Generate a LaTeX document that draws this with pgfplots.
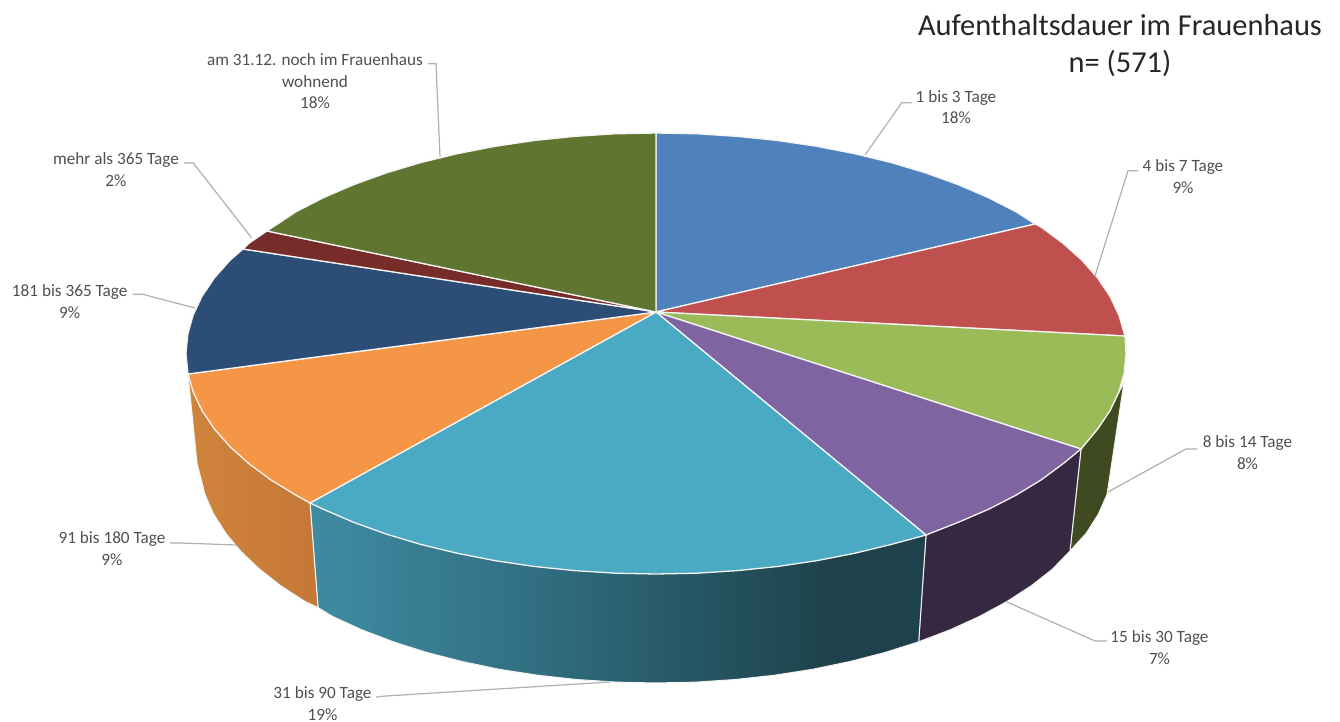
\documentclass[border=0pt]{standalone}
\usepackage{pgfplots}
\pgfplotsset{compat=1.18}
\usepackage{fontspec}
\setmainfont{Carlito}
\definecolor{cA}{HTML}{4F81BD}
\definecolor{cB}{HTML}{C0504D}
\definecolor{cC}{HTML}{9BBB59}
\definecolor{cD}{HTML}{8064A2}
\definecolor{cE}{HTML}{4AA9C3}
\definecolor{cF}{HTML}{F49645}
\definecolor{cG}{HTML}{2C4D75}
\definecolor{cH}{HTML}{772C2A}
\definecolor{cI}{HTML}{5F7530}
\definecolor{wC}{HTML}{3F4A21}
\definecolor{wD}{HTML}{352840}
\definecolor{lead}{HTML}{B0B0B0}
\definecolor{txt}{HTML}{505050}
\definecolor{edge}{HTML}{F4F4F4}
\definecolor{t1}{RGB}{62,140,162}
\definecolor{t2}{RGB}{52,116,136}
\definecolor{t3}{RGB}{40,92,107}
\definecolor{t4}{RGB}{30,66,76}
\definecolor{o1}{RGB}{207,132,60}
\definecolor{o2}{RGB}{197,120,55}
\pgfdeclarehorizontalshading{tealwall}{100bp}{
  color(0bp)=(t1); color(25bp)=(t1); color(40bp)=(t2); color(53bp)=(t3); color(67bp)=(t4); color(100bp)=(t4)}
\pgfdeclarehorizontalshading{orangewall}{100bp}{
  color(0bp)=(o1); color(25bp)=(o1); color(75bp)=(o2); color(100bp)=(o2)}
\newcommand{\lab}[3]{\node[anchor=base,inner sep=0pt,text=txt,font=\fontsize{8.6}{10}\selectfont] at (axis cs:#1,#2) {#3};}
\newcommand{\ttl}[3]{\node[anchor=base,inner sep=0pt,text=black!85,font=\fontsize{15.2}{18}\selectfont] at (axis cs:#1,#2) {#3};}
\begin{document}
\begin{tikzpicture}
\begin{axis}[
  width=670pt,height=361pt,scale only axis,
  xmin=0,xmax=1340,ymin=0,ymax=722,y dir=reverse,
  axis lines=none,clip=false,
]
% canvas
\addplot[draw=none,fill=white] coordinates {(0,0)(1340,0)(1340,722)(0,722)} --cycle;
% walls
\addplot[fill=wC,draw=edge,line width=0.5pt] coordinates {(1124,382)(1107,494.6)(1098.4,514)(1086.4,533)(1070,551)(1081,449)(1097.7,428.9)(1110,410.6)} --cycle;
\addplot[fill=wD,draw=edge,line width=0.5pt] coordinates {(1081,449)(1070,551)(1052.6,569)(1031.2,585.8)(1006.8,601.6)(979.9,616.2)(950.4,629.7)(918.7,641.8)(926,535)} --cycle;
\addplot[shade,shading=tealwall,draw=edge,line width=0.5pt] coordinates {(926,535)(918.7,641.8)(885,652.5)(849.6,661.6)(812.6,669.3)(774.5,675.2)(735.5,679.5)(695.9,682.1)(656,683)(616.1,682.1)(576.5,679.5)(537.5,675.2)(499.4,669.3)(462.4,661.6)(427,652.5)(393.3,641.8)(361.6,629.7)(332.1,616.2)(318,607.5)(310,503)} --cycle;
\addplot[shade,shading=orangewall,draw=edge,line width=0.5pt] coordinates {(310,503)(318,607.5)(305.2,601.6)(280.8,585.8)(259.4,569)(240.9,551.4)(225.6,533)(213.6,514)(205,494.6)(197,463)(188,374)(230,446.7)} --cycle;
% top
\addplot[fill=cA,draw=edge,line width=0.65pt] coordinates {(656,312)(656,133)(697,133.8)(737.6,136.4)(777.6,140.5)(816.7,146.3)(854.6,153.7)(891,162.5)(925.6,172.9)(958.1,184.6)(988.3,197.6)(1016,211.8)(1035,224)} --cycle;
\addplot[fill=cB,draw=edge,line width=0.65pt] coordinates {(656,312)(1035,224)(1041,227)(1063,243.25)(1082,260.3)(1097.7,278.1)(1110,296.4)(1118.9,315.2)(1125,336)} --cycle;
\addplot[fill=cC,draw=edge,line width=0.65pt] coordinates {(656,312)(1125,336)(1126,353.5)(1124.2,372.7)(1118.9,391.8)(1110,410.6)(1097.7,428.9)(1081,449)} --cycle;
\addplot[fill=cD,draw=edge,line width=0.65pt] coordinates {(656,312)(1081,449)(1063,463.75)(1041,480)(1016,495.2)(988.3,509.4)(958.1,522.4)(926,535)} --cycle;
\addplot[fill=cE,draw=edge,line width=0.65pt] coordinates {(656,312)(926,535)(891,544.5)(854.6,553.3)(816.7,560.7)(777.6,566.5)(737.6,570.6)(697,573.2)(656,574)(615,573.2)(574.4,570.6)(534.4,566.5)(495.3,560.7)(457.4,553.3)(421,544.5)(386.4,534.1)(353.9,522.4)(323.7,509.4)(310,503)} --cycle;
\addplot[fill=cF,draw=edge,line width=0.65pt] coordinates {(656,312)(310,503)(296,495.2)(271,480)(249,463.75)(230,446.7)(214.3,428.9)(202,410.6)(193.1,391.8)(188,374)} --cycle;
\addplot[fill=cG,draw=edge,line width=0.65pt] coordinates {(656,312)(188,374)(186,353.5)(187.8,334.3)(193.1,315.2)(202,296.4)(214.3,278.1)(230,260.3)(243,249)} --cycle;
\addplot[fill=cH,draw=edge,line width=0.65pt] coordinates {(656,312)(243,249)(249,243.25)(267,231)} --cycle;
\addplot[fill=cI,draw=edge,line width=0.65pt] coordinates {(656,312)(267,231)(296,211.8)(323.7,197.6)(353.9,184.6)(386.4,172.9)(421,162.5)(457.4,153.7)(495.3,146.3)(534.4,140.5)(574.4,136.4)(615,133.8)(656,133)} --cycle;
% leaders
\addplot[lead,line width=0.6pt] coordinates {(911.7,102.7)(901.7,102.7)(865,155)};
\addplot[lead,line width=0.6pt] coordinates {(1138,170.7)(1128,170.7)(1095,276)};
\addplot[lead,line width=0.6pt] coordinates {(1197,449)(1186,449)(1108,492)};
\addplot[lead,line width=0.6pt] coordinates {(1107,641)(1095,641)(1007,602)};
\addplot[lead,line width=0.6pt] coordinates {(376,697)(386,696)(610,682)};
\addplot[lead,line width=0.6pt] coordinates {(170,543)(180,543)(237,545)};
\addplot[lead,line width=0.6pt] coordinates {(132.7,294.3)(142.7,294.3)(195,308)};
\addplot[lead,line width=0.6pt] coordinates {(184,163)(193.3,163)(251.7,238)};
\addplot[lead,line width=0.6pt] coordinates {(427.7,63.7)(436,63.7)(440,156.7)};
% labels
\ttl{1120}{35.5}{Aufenthaltsdauer im Frauenhaus}
\ttl{1120}{73}{n= (571)}
\lab{315}{66}{am 31.12. noch im Frauenhaus}
\lab{315}{87.5}{wohnend}
\lab{315}{109}{18\%}
\lab{116}{165}{mehr als 365 Tage}
\lab{116}{187}{2\%}
\lab{69.7}{296}{181 bis 365 Tage}
\lab{69.7}{318}{9\%}
\lab{956}{103}{1 bis 3 Tage}
\lab{956}{124}{18\%}
\lab{1183}{172}{4 bis 7 Tage}
\lab{1183}{194}{9\%}
\lab{1247.5}{447}{8 bis 14 Tage}
\lab{1247.5}{469}{8\%}
\lab{1159.5}{642}{15 bis 30 Tage}
\lab{1159.5}{664}{7\%}
\lab{322.5}{698}{31 bis 90 Tage}
\lab{322.5}{720}{19\%}
\lab{112}{543}{91 bis 180 Tage}
\lab{112}{565}{9\%}
\end{axis}
\end{tikzpicture}
\end{document}
